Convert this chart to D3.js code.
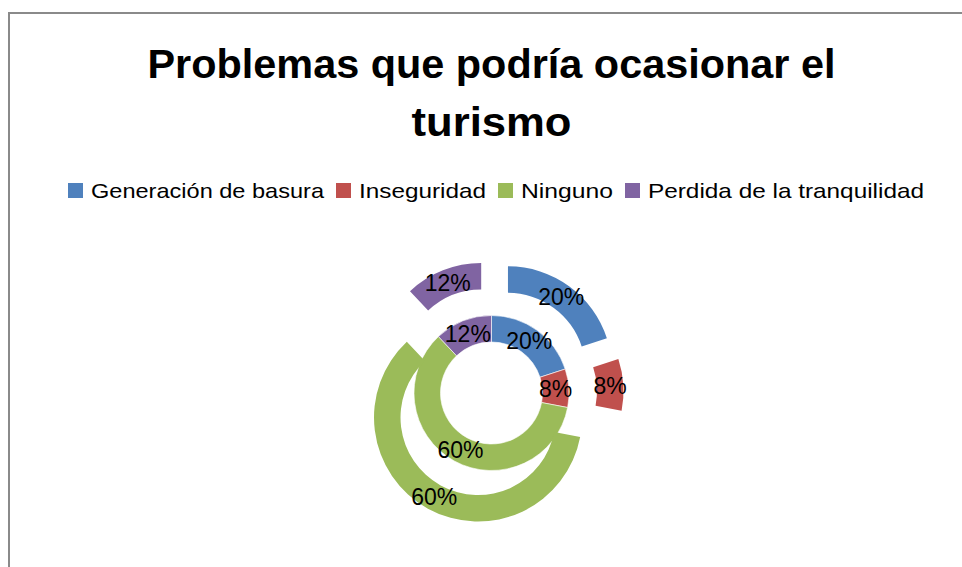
<!DOCTYPE html>
<html>
  <head>
    <meta charset="utf-8">
    <script src="https://d3js.org/d3.v7.min.js"></script>
    <title></title>
    <style>
    body {
      margin: 0;
      background-color: #fff;
    }
    svg {
      display: block;
      font-family: "Liberation Sans", Arial, sans-serif;
    }
    .label {
      font-size: 23px;
      fill: #000;
    }
    </style>
  </head>
  <body>
    <script type="text/javascript">
      let categories = ['Generación de basura', 'Inseguridad', 'Ninguno', 'Perdida de la tranquilidad']
      let innerValues = [20, 8, 60, 12]
      let outerValues = [20, 8, 60, 12]
      let titleLines = ['Problemas que podría ocasionar el', 'turismo']

      let w = 962
      let h = 567
      let cx = 491.5
      let cy = 393
      let ringW = 26.5
      let rHole = 51
      let explode = 28

      let color = d3.scaleOrdinal()
                    .domain(categories)
                    .range(['#4F81BD', '#C0504D', '#9BBB59', '#8064A2'])

      let svg = d3.select('body')
                  .append('svg')
                  .attr('width', w)
                  .attr('height', h)

      // chart frame
      svg.append('rect')
         .attr('x', 9)
         .attr('y', 13)
         .attr('width', 1000)
         .attr('height', 600)
         .attr('fill', '#fff')
         .attr('stroke', '#8a8a8a')
         .attr('stroke-width', 2)

      // title
      let titleWidths = [688, 160]
      svg.selectAll('.title')
         .data(titleLines)
         .enter()
         .append('text')
         .attr('class', 'title')
         .attr('x', cx)
         .attr('y', (d, i) => 78 + i * 58)
         .attr('text-anchor', 'middle')
         .attr('font-size', 40)
         .attr('font-weight', 'bold')
         .attr('textLength', (d, i) => titleWidths[i])
         .attr('lengthAdjust', 'spacingAndGlyphs')
         .text(d => d)

      // legend
      let legend = svg.append('g')
      let lx = 68
      let textW = [233, 127, 92, 276]
      categories.forEach((c, i) => {
        legend.append('rect')
              .attr('x', lx)
              .attr('y', 183)
              .attr('width', 15)
              .attr('height', 15)
              .attr('fill', color(c))
        legend.append('text')
              .attr('x', lx + 23)
              .attr('y', 198)
              .attr('font-size', 21)
              .attr('textLength', textW[i])
              .attr('lengthAdjust', 'spacingAndGlyphs')
              .text(c)
        lx += 23 + textW[i] + 12
      })

      let pie = d3.pie().sort(null)

      let innerArc = d3.arc().innerRadius(rHole).outerRadius(rHole + ringW)
      let outerArc = d3.arc().innerRadius(rHole + ringW).outerRadius(rHole + 2 * ringW)

      let g = svg.append('g')
                 .attr('transform', `translate(${cx}, ${cy})`)

      // inner ring
      let inner = g.selectAll('.inner')
                   .data(pie(innerValues))
                   .enter()
                   .append('g')
                   .attr('class', 'inner')
      inner.append('path')
           .attr('d', innerArc)
           .attr('fill', (d, i) => color(categories[i]))
           .attr('stroke', '#fff')
           .attr('stroke-width', 0.6)
      inner.append('text')
           .attr('class', 'label')
           .attr('transform', d => `translate(${innerArc.centroid(d)})`)
           .attr('text-anchor', 'middle')
           .attr('dy', '0.36em')
           .text((d, i) => innerValues[i] + '%')

      // outer ring, exploded
      let shift = d => {
        let a = (d.startAngle + d.endAngle) / 2
        return [Math.sin(a) * explode, -Math.cos(a) * explode]
      }
      let outer = g.selectAll('.outer')
                   .data(pie(outerValues))
                   .enter()
                   .append('g')
                   .attr('class', 'outer')
                   .attr('transform', d => `translate(${shift(d)})`)
      outer.append('path')
           .attr('d', outerArc)
           .attr('fill', (d, i) => color(categories[i]))
      outer.append('text')
           .attr('class', 'label')
           .attr('transform', d => `translate(${outerArc.centroid(d)})`)
           .attr('text-anchor', 'middle')
           .attr('dy', '0.36em')
           .text((d, i) => outerValues[i] + '%')
    </script>
  </body>
</html>
